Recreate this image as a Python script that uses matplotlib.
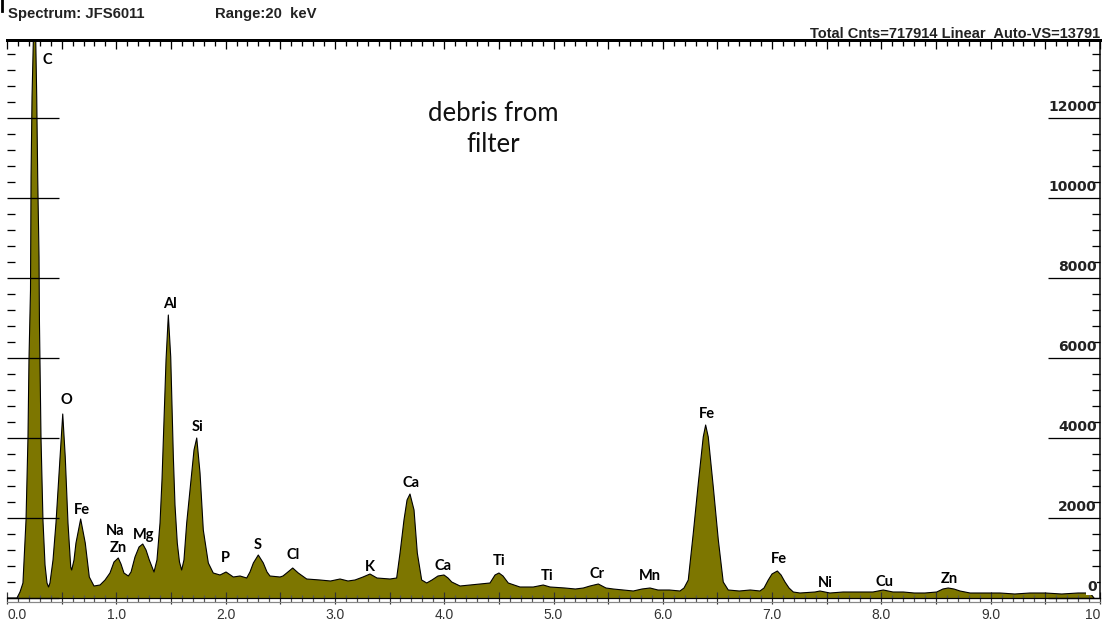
import matplotlib
matplotlib.use("Agg")
import matplotlib.pyplot as plt
import matplotlib.transforms as mtransforms
from matplotlib.lines import Line2D
from matplotlib.ticker import MultipleLocator, FuncFormatter, NullFormatter

# EDS spectrum outline: energy (keV) and counts
energy_kev = [
    0.000, 0.091, 0.119, 0.146, 0.174, 0.192, 0.201, 0.215, 0.220, 0.229, 0.241, 0.252,
    0.263, 0.272, 0.281, 0.293, 0.297, 0.311, 0.329, 0.348, 0.366, 0.380,
    0.393, 0.421, 0.448, 0.485, 0.510, 0.533, 0.558, 0.583, 0.592,
    0.613, 0.631, 0.674, 0.716, 0.753, 0.796, 0.851,
    0.897, 0.942, 0.979, 1.018, 1.043, 1.070, 1.110,
    1.135, 1.171, 1.208, 1.242, 1.272, 1.302, 1.345,
    1.372, 1.400, 1.418, 1.436, 1.455, 1.476, 1.498, 1.522, 1.537, 1.558, 1.578, 1.598,
    1.619, 1.644, 1.690, 1.711, 1.736, 1.766, 1.796, 1.842, 1.887,
    1.949, 2.004, 2.071, 2.132, 2.193,
    2.223, 2.254, 2.299, 2.345, 2.379, 2.406, 2.498,
    2.525, 2.559, 2.614, 2.665, 2.742, 2.864, 2.960, 3.047, 3.120, 3.184,
    3.257, 3.321, 3.385, 3.504,
    3.565, 3.596, 3.632, 3.660, 3.687, 3.724, 3.754, 3.794, 3.840,
    3.888, 3.943, 3.998, 4.035, 4.069, 4.145, 4.240, 4.328,
    4.419, 4.465, 4.501, 4.538, 4.586, 4.693, 4.815, 4.906, 4.968, 5.105, 5.200, 5.273,
    5.334, 5.410, 5.480, 5.547, 5.640, 5.730,
    5.810, 5.883, 5.956, 6.060, 6.157,
    6.194, 6.233, 6.279, 6.325, 6.370, 6.392, 6.416, 6.462, 6.508, 6.553, 6.599, 6.700, 6.800, 6.889,
    6.926, 6.965, 6.999, 7.048, 7.082, 7.118, 7.155, 7.194, 7.255,
    7.393, 7.438, 7.529, 7.650, 7.804,
    7.923, 8.017, 8.106, 8.200, 8.300, 8.399,
    8.506, 8.563, 8.611, 8.664, 8.719, 8.811, 8.950, 9.085, 9.220, 9.360, 9.500, 9.650, 9.800, 9.909, 9.945,
]
counts = [
    0, 0, 150, 375, 1950, 4025, 5950, 7700, 10525, 12525, 13950, 16500,
    13950, 12525, 10525, 8525, 6875, 4025, 1950, 825, 375, 275,
    375, 950, 1875, 3525, 4600, 3525, 1875, 775, 700,
    950, 1375, 1975, 1375, 525, 300, 325,
    450, 625, 900, 1000, 850, 625, 550,
    650, 1025, 1275, 1350, 1200, 950, 650,
    950, 1875, 2950, 4375, 5950, 7075, 6025, 3525, 2325, 1375, 900, 700,
    950, 1875, 3125, 3700, 4000, 3125, 1700, 875, 625,
    575, 650, 525, 550, 500,
    650, 875, 1075, 875, 650, 550, 525,
    550, 625, 750, 625, 475, 450, 425, 475, 425, 450,
    525, 600, 500, 475,
    500, 1125, 1950, 2450, 2600, 2200, 1125, 450, 375,
    450, 550, 575, 500, 400, 300, 325, 350,
    375, 575, 625, 550, 375, 275, 275, 325, 275, 250, 225, 250,
    300, 350, 250, 225, 200, 175,
    225, 250, 200, 200, 175,
    250, 450, 1625, 2875, 4025, 4325, 4025, 2775, 1450, 400, 200, 175, 200, 175,
    250, 450, 600, 675, 575, 400, 250, 150, 125,
    150, 175, 125, 150, 150,
    150, 200, 150, 150, 125, 125,
    150, 225, 250, 225, 175, 125, 125, 125, 100, 125, 125, 100, 125, 125, 0,
]

# element labels: text, energy (keV), counts at label centre
peak_names = ["C", "O", "Fe", "Na", "Zn", "Mg", "Al", "Si", "P", "S", "Cl", "K",
              "Ca", "Ca", "Ti", "Ti", "Cr", "Mn", "Fe", "Fe", "Ni", "Cu", "Zn"]
peak_kev = [0.366, 0.546, 0.686, 0.988, 1.014, 1.253, 1.491, 1.747, 2.001, 2.294, 2.617, 3.321,
            3.696, 3.992, 4.501, 4.938, 5.401, 5.883, 6.402, 7.063, 7.491, 8.026, 8.621]
peak_cnt = [13450, 4950, 2200, 1675, 1250, 1575, 7350, 4275, 1000, 1325, 1075, 775,
            2875, 800, 925, 550, 600, 550, 4600, 975, 375, 400, 475]

y_major = [2000, 4000, 6000, 8000, 10000, 12000]

olive = "#7d7600"
PX = 72 / 100  # points per pixel at 100 dpi

fig = plt.figure(figsize=(11.04, 6.22), dpi=100)
W, H = 1104, 622
ax = fig.add_axes([7 / W, (H - 598) / H, (1100 - 7) / W, (598 - 40) / H])

ax.fill_between(energy_kev, counts, 0, color=olive, linewidth=0, zorder=1)
ax.plot(energy_kev, counts, color="black", linewidth=0.8, zorder=2)

ax.set_xlim(0, 10)
ax.set_ylim(0, 13950)

# spines
ax.spines["left"].set_visible(False)
ax.spines["top"].set_linewidth(3 * PX)
ax.spines["right"].set_linewidth(1.5 * PX)
ax.spines["bottom"].set_linewidth(1.2 * PX)

# bottom energy axis
ax.xaxis.set_major_locator(MultipleLocator(0.5))
ax.xaxis.set_minor_locator(MultipleLocator(0.1))

def kev_fmt(v, pos):
    if abs(v - round(v)) > 1e-6:
        return ""
    if round(v) == 10:
        return "10"
    return f"{v:.1f}"

ax.xaxis.set_major_formatter(FuncFormatter(kev_fmt))
ax.tick_params(axis="x", which="major", bottom=True, top=False, direction="inout",
               length=12 * PX, width=1.2 * PX, color="#333333", labelsize=10,
               labelcolor="#333333", pad=3)
ax.tick_params(axis="x", which="minor", bottom=True, top=False, direction="inout",
               length=7 * PX, width=1.2 * PX, color="#555555")
fig.canvas.draw()
for lab in ax.get_xticklabels():
    lab.set_fontfamily("Liberation Sans")
    if lab.get_text() == "10":
        lab.set_horizontalalignment("right")
    elif lab.get_text() == "0.0":
        lab.set_horizontalalignment("left")

# top axis ticks pointing down
top = ax.secondary_xaxis("top")
top.xaxis.set_major_locator(MultipleLocator(0.5))
top.xaxis.set_minor_locator(MultipleLocator(0.1))
top.xaxis.set_major_formatter(NullFormatter())
top.spines["top"].set_visible(False)
top.tick_params(which="major", direction="in", length=9 * PX, width=1.3 * PX, color="black")
top.tick_params(which="minor", direction="in", length=6 * PX, width=1.3 * PX, color="black")

# y axis: long major lines at both sides, short minor ticks, no default labels
ax.yaxis.set_major_locator(MultipleLocator(2000))
ax.yaxis.set_minor_locator(MultipleLocator(400))
ax.tick_params(axis="y", which="major", left=True, right=True, direction="in",
               length=52 * PX, width=1.3 * PX, color="black", labelleft=False, labelright=False)
ax.tick_params(axis="y", which="minor", left=True, right=True, direction="in",
               length=8 * PX, width=1.3 * PX, color="black")

# count labels inside the right edge
trans = mtransforms.blended_transform_factory(ax.transAxes, ax.transData)
for v in y_major:
    ax.text(0.997, v + 90, str(v), transform=trans, ha="right", va="bottom",
            fontsize=10, fontweight="bold", family="DejaVu Sans", color="#222222")
ax.text(0.997, 90, "0", transform=trans, ha="right", va="bottom",
        fontsize=10, fontweight="bold", family="DejaVu Sans", color="#222222",
        bbox=dict(facecolor="white", edgecolor="none", pad=0.5), zorder=5)

# second grey rule under the energy axis
ax.add_line(Line2D([0, 1], [-3.5 / 558, -3.5 / 558], transform=ax.transAxes,
                   color="#888888", linewidth=1.2 * PX, clip_on=False))

# element labels
for name, x, y in zip(peak_names, peak_kev, peak_cnt):
    ax.text(x, y, name, ha="center", va="center", fontsize=10.5,
            fontweight="bold", family="Lato", color="black", zorder=4)

ax.text(4.45, 11725, "debris from\nfilter", ha="center", va="center",
        fontsize=18.5, family="Lato", linespacing=1.3, color="#111111")

# header line
fig.text(8 / W, 1 - 14 / H, "Spectrum: JFS6011", ha="left", va="center",
         fontsize=10.7, fontweight="bold", family="Liberation Sans", color="#222222")
fig.text(215 / W, 1 - 14 / H, "Range:20  keV", ha="left", va="center",
         fontsize=10.7, fontweight="bold", family="Liberation Sans", color="#222222")
fig.text(1100 / W, 1 - 38 / H, "Total Cnts=717914 Linear  Auto-VS=13791", ha="right",
         va="baseline", fontsize=10.5, fontweight="bold", family="Liberation Sans",
         color="#222222")
fig.add_artist(Line2D([1.5 / W, 1.5 / W], [1, 1 - 11 / H], color="black", linewidth=2))

fig.savefig("out.png", dpi=100)
